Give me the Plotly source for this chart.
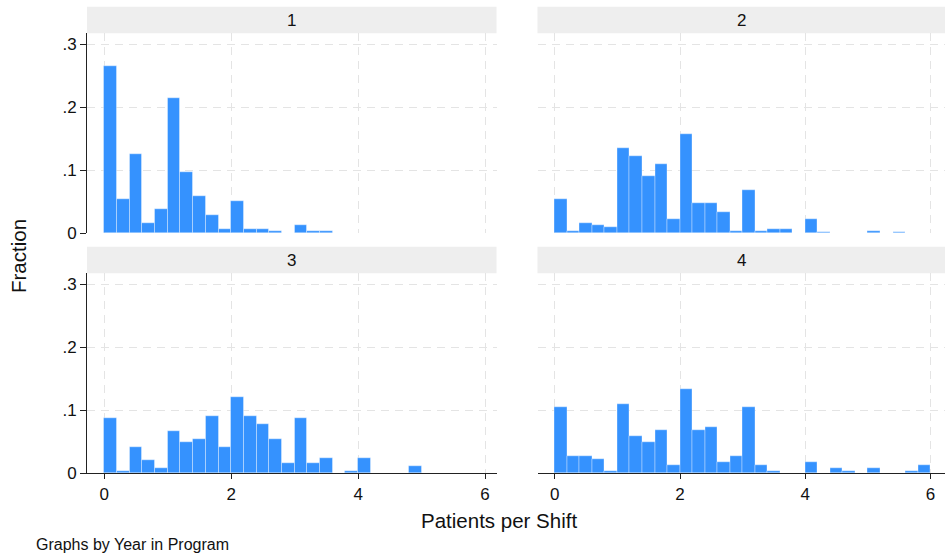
import plotly.graph_objects as go

# ---- data (fraction per 0.2-wide bin, starting at 0) ----
bin_width = 0.2
year1 = [0.265, 0.0535, 0.1256, 0.0159, 0.0376, 0.214, 0.0964, 0.0583, 0.0286, 0.0069,
         0.0503, 0.0069, 0.0069, 0.0037, 0, 0.0127, 0.0037, 0.0037]
year2 = [0.0535, 0.0037, 0.0154, 0.0122, 0.009, 0.135, 0.122, 0.0906, 0.109, 0.0228,
         0.157, 0.0482, 0.0482, 0.0329, 0.0037, 0.0678, 0.0037, 0.0069, 0.0069, 0,
         0.0228, 0.0016, 0, 0, 0, 0.0037, 0, 0.0016]
year3 = [0.0874, 0.0026, 0.0413, 0.0207, 0.0074, 0.0668, 0.0493, 0.0535, 0.0906, 0.0413,
         0.1208, 0.0906, 0.0784, 0.0535, 0.0159, 0.0874, 0.0159, 0.0238, 0, 0.0026,
         0.0238, 0, 0, 0, 0.0117]
year4 = [0.105, 0.027, 0.027, 0.0223, 0.0032, 0.1097, 0.0588, 0.0498, 0.0684, 0.0127,
         0.1336, 0.0684, 0.0731, 0.0175, 0.027, 0.105, 0.0127, 0.0032, 0, 0,
         0.0175, 0, 0.008, 0.0032, 0, 0.008, 0, 0, 0.0032, 0.0127]
panel_titles = ["1", "2", "3", "4"]
y_ticks = [0, 0.1, 0.2, 0.3]
y_tick_labels = ["0", ".1", ".2", ".3"]
x_ticks = [0, 2, 4, 6]
x_tick_labels = ["0", "2", "4", "6"]

W, H = 945, 556
FONT = "Liberation Sans, Arial, sans-serif"
BAR = "#3592fe"
GRID = "#e4e4e4"
VS = 0.982  # observed vertical factor of the renderer


def py(pix):
    """pixel-from-top -> paper y fraction"""
    return 1 - (pix / VS) / H


# panel pixel boxes: (left, right, top, bottom)
boxes = [(87, 496.5, 33.3, 233.3), (537.5, 945, 33.3, 233.3),
         (87, 496.5, 273.3, 473.3), (537.5, 945, 273.3, 473.3)]
x_ranges = [[-0.273, 6.18], [-0.276, 6.23], [-0.273, 6.18], [-0.276, 6.23]]
y_range = [0, 0.317]

fig = go.Figure()
series = [year1, year2, year3, year4]
shapes = []
annotations = []
for i, (vals, box) in enumerate(zip(series, boxes)):
    n = i + 1
    xa = "x" if n == 1 else f"x{n}"
    ya = "y" if n == 1 else f"y{n}"
    centers = [k * bin_width + bin_width / 2 for k in range(len(vals))]
    yv = [v if v > 0 else None for v in vals]
    fig.add_trace(go.Bar(x=centers, y=yv, width=bin_width, xaxis=xa, yaxis=ya,
                         marker=dict(color=BAR, line=dict(color="rgba(255,255,255,0.35)", width=1)),
                         showlegend=False, hoverinfo="skip"))
    l, r, t, b = box
    xdom = [l / W, r / W]
    ydom = [py(b), py(t)]
    left_col = n in (1, 3)
    bottom_row = n in (3, 4)
    xkey = "xaxis" if n == 1 else f"xaxis{n}"
    ykey = "yaxis" if n == 1 else f"yaxis{n}"
    fig.layout[xkey] = dict(domain=xdom, anchor=ya, range=x_ranges[i],
                            tickvals=x_ticks, ticktext=x_tick_labels,
                            showticklabels=bottom_row, ticks="outside" if bottom_row else "",
                            ticklen=5, tickcolor="#222", tickwidth=1,
                            showline=bottom_row, linecolor="#222", linewidth=1,
                            showgrid=True, gridcolor=GRID, griddash="8px,6px", gridwidth=1,
                            zeroline=False, tickfont=dict(family=FONT, size=17, color="#111"),
                            fixedrange=True)
    fig.layout[ykey] = dict(domain=ydom, anchor=xa, range=y_range,
                            tickvals=y_ticks, ticktext=y_tick_labels,
                            showticklabels=left_col, ticks="outside" if left_col else "",
                            ticklen=6, tickcolor="#222", tickwidth=1,
                            showline=left_col, linecolor="#222", linewidth=1,
                            showgrid=True, gridcolor=GRID, griddash="8px,6px", gridwidth=1,
                            zeroline=False, tickfont=dict(family=FONT, size=17, color="#111"),
                            fixedrange=True)
    # strip header
    s_top = t - 26.6
    shapes.append(dict(type="rect", xref="paper", yref="paper", layer="below",
                       x0=l / W, x1=r / W, y0=py(t), y1=py(s_top),
                       fillcolor="#eeeeee", line=dict(width=0)))
    annotations.append(dict(text=panel_titles[i], xref="paper", yref="paper",
                            x=(l + r) / 2 / W, y=py((t + s_top) / 2),
                            showarrow=False, xanchor="center", yanchor="middle",
                            font=dict(family=FONT, size=17, color="#111")))

annotations.append(dict(text="Fraction", xref="paper", yref="paper", x=18 / W, y=py(256),
                        textangle=-90, showarrow=False, xanchor="center", yanchor="middle",
                        font=dict(family=FONT, size=20.5, color="#111")))
annotations.append(dict(text="Patients per Shift", xref="paper", yref="paper", x=499 / W, y=py(520),
                        showarrow=False, xanchor="center", yanchor="middle",
                        font=dict(family=FONT, size=20.5, color="#111")))
annotations.append(dict(text="Graphs by Year in Program", xref="paper", yref="paper", x=34 / W, y=py(544),
                        showarrow=False, xanchor="left", yanchor="middle",
                        font=dict(family=FONT, size=16, color="#111")))

fig.update_layout(width=W, height=H, autosize=False, margin=dict(l=0, r=0, t=0, b=0, pad=0),
                  paper_bgcolor="white", plot_bgcolor="white", bargap=0,
                  shapes=shapes, annotations=annotations)
fig.write_html("out.html", config={"responsive": False, "displayModeBar": False},
               default_width="945px", default_height="556px")
